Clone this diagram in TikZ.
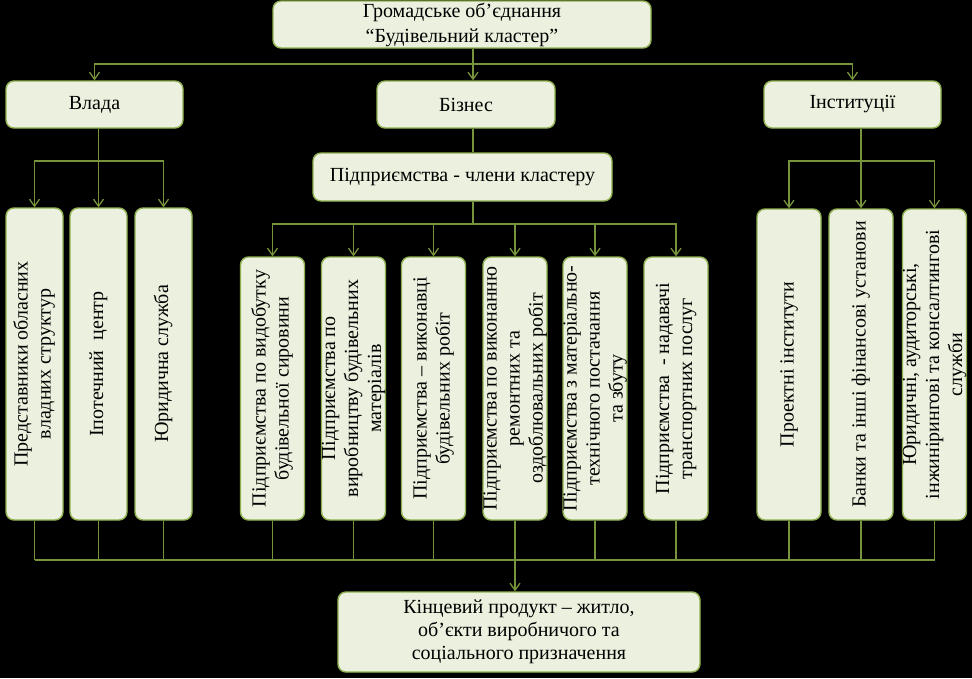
\documentclass[tikz,border=0pt]{standalone}
\usepackage{fontspec}
\setmainfont{Liberation Serif}
\usepackage{graphicx}
\usetikzlibrary{arrows.meta}
\definecolor{fillc}{HTML}{EBF1DE}
\definecolor{boxc}{HTML}{8FB050}
\definecolor{linec}{HTML}{77933C}
\newcommand\vtext[1]{\makebox[0pt]{\raisebox{\dimexpr(\depth-\height)/2\relax}[0pt][0pt]{\rotatebox{90}{\begin{tabular}{@{}c@{}}#1\end{tabular}}}}}
\tikzset{
  box/.style={draw=boxc, fill=fillc, line width=1.4pt, rounded corners=8pt, inner sep=0pt,
    font=\fontsize{20}{23}\selectfont, align=center, text=black},
  ln/.style={draw=linec, line width=1.3pt},
  arr/.style={ln, -{Straight Barb[length=7pt,width=10pt]}},
  lbox/.style={box, minimum width=57pt, minimum height=312pt},
  bbox/.style={box, minimum width=64pt, minimum height=263pt},
  ibox/.style={box, minimum width=64pt, minimum height=311pt}
}
\begin{document}
\begin{tikzpicture}[x=1pt,y=-1pt]
\fill[black] (0,0) rectangle (972,678);
\useasboundingbox (0,0) rectangle (972,678);

\node[box, minimum width=378pt, minimum height=47pt, font=\fontsize{20}{25}\selectfont] (top) at (462,24.5) {Громадське об’єднання\\“Будівельний кластер”};
\node[box, minimum width=177pt, minimum height=47pt] (vlada) at (94.5,104.5) {Влада};
\node[box, minimum width=178pt, minimum height=47pt] (biz) at (466,104.5) {Бізнес};
\node[box, minimum width=177pt, minimum height=47pt] (inst) at (852.5,104.5) {Інституції};
\node[box, minimum width=299pt, minimum height=48pt] (mem) at (462.5,177) {Підприємства - члени кластеру};

\node[lbox] (l1) at (34.5,364) {\vtext{Представники обласних\\владних структур}};
\node[lbox] (l2) at (98.5,364) {\vtext{Іпотечний\ \ центр}};
\node[lbox] (l3) at (163.5,364) {\vtext{Юридична служба}};

\node[bbox] (b1) at (272.5,388.5) {\vtext{Підприємства по видобутку\\будівельної сировини}};
\node[bbox] (b2) at (353.5,388.5) {\vtext{Підприємства по\\виробництву будівельних\\матеріалів}};
\node[bbox] (b3) at (433.5,388.5) {\vtext{Підприємства – виконавці\\будівельних робіт}};
\node[bbox] (b4) at (515,388.5) {\vtext{Підприємства по виконанню\\ремонтних та\\оздоблювальних робіт}};
\node[bbox] (b5) at (595,388.5) {\vtext{Підприємства з матеріально-\\технічного постачання\\та збуту}};
\node[bbox] (b6) at (676,388.5) {\vtext{Підприємства\ \ - надавачі\\транспортних послуг}};

\node[ibox] (i1) at (789,364.5) {\vtext{Проектні інститути}};
\node[ibox] (i2) at (861,364.5) {\vtext{Банки та інші фінансові установи}};
\node[ibox] (i3) at (934.5,364.5) {\vtext{Юридичні, аудиторські,\\інжинірингові та консалтингові\\служби}};

\node[box, minimum width=362pt, minimum height=80pt] (fin) at (519,632) {\raisebox{-3pt}{\begin{tabular}{@{}c@{}}Кінцевий продукт – житло,\\об’єкти виробничого та\\соціального призначення\end{tabular}}};

% top level
\coordinate (tb) at (473,64);
\draw[ln] (tb |- top.south) -- (tb);
\draw[arr] (tb) -| (vlada.north);
\draw[arr] (tb) -- (tb |- biz.north);
\draw[arr] (tb) -| (inst.north);

% vlada
\coordinate (vb) at (l2.north |- 0,161);
\draw[ln] (vlada.south -| vb) -- (vb);
\draw[arr] (vb) -| (l1.north);
\draw[arr] (vb) -- (l2.north);
\draw[arr] (vb) -| (l3.north);

% business
\coordinate (bx) at (473,224);
\draw[ln] (bx |- biz.south) -- (bx |- mem.north);
\draw[ln] (bx |- mem.south) -- (bx);
\foreach \n in {b1,b2,b3,b4,b5,b6} \draw[arr] (bx) -| (\n.north);

% institutions
\coordinate (ib) at (i2.north |- 0,161);
\draw[ln] (inst.south -| ib) -- (ib);
\draw[arr] (ib) -| (i1.north);
\draw[arr] (ib) -- (i2.north);
\draw[arr] (ib) -| (i3.north);

% bottom bus
\coordinate (bb) at (b4.south |- 0,560);
\foreach \n in {l1,l2,l3,b1,b2,b3,b4,b5,b6,i1,i2,i3} \draw[ln] (\n.south) -- (\n.south |- bb);
\draw[ln] (l1.south |- bb) -- (i3.south |- bb);
\draw[arr] (bb) -- (bb |- fin.north);
\end{tikzpicture}
\end{document}
